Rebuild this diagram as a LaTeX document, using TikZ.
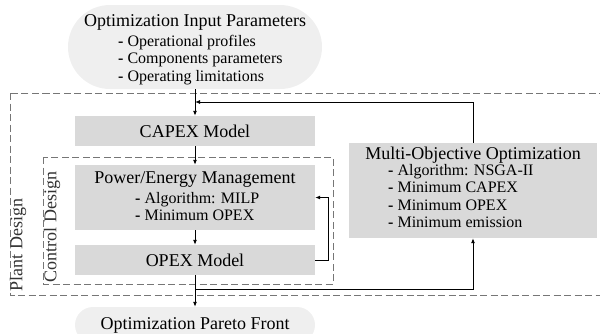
\documentclass[tikz,border=0pt]{standalone}
\usepackage{fontspec}
\setmainfont{Liberation Serif}
\usetikzlibrary{arrows.meta}
\definecolor{boxgray}{HTML}{D9D9D9}
\definecolor{softgray}{HTML}{EFEFEF}
\definecolor{dashgray}{HTML}{767676}
\newcommand{\headfont}{\fontsize{18}{20}\selectfont}
\newcommand{\itemfont}{\fontsize{16}{17.5}\selectfont}
\tikzset{
  modelbox/.style={fill=boxgray,minimum width=240pt,inner sep=0pt,font=\headfont},
  softbox/.style={fill=softgray,inner sep=0pt},
  designframe/.style={draw=dashgray,dash pattern=on 7pt off 3.5pt,line width=.9pt},
  framelabel/.style={rotate=90,font=\headfont,text=black!80,inner sep=0pt},
  flow/.style={-{Latex[length=5pt,width=4pt]},line width=.9pt},
  itemlist/.style={font=\itemfont,align=left,anchor=north west,inner sep=0pt}
}
\begin{document}
\begin{tikzpicture}[x=1pt,y=-1pt]
  \useasboundingbox (0,0) rectangle (600,333);
  \clip (0,0) rectangle (600,333);
  % input parameters
  \node[softbox,minimum width=254pt,minimum height=84pt,rounded corners=42pt](inparam) at (195,47){};
  \node[font=\headfont,inner sep=0pt](inparamtitle) at (195,22){Optimization Input Parameters};
  \node[itemlist](inparamlist) at (118,35){\textbf{-} Operational profiles\\\textbf{-} Components parameters\\\textbf{-} Operating limitations};
  % frames
  \draw[designframe](10,93) rectangle (610,295);
  \draw[designframe](43,157) rectangle (333,284);
  \node[framelabel](plantlbl) at (18,245){Plant Design};
  \node[framelabel](ctrllbl) at (52,227){Control Design};
  % models
  \node[modelbox,minimum height=30pt](capex) at (195,131){CAPEX Model};
  \node[modelbox,minimum height=65pt](pem) at (195,197.5){};
  \node[font=\headfont,inner sep=0pt](pemtitle) at (195,180){Power/Energy Management};
  \node[itemlist](pemlist) at (135,192){\textbf{-} Algorithm: MILP\\\textbf{-} Minimum OPEX};
  \node[modelbox,minimum height=30pt](opex) at (195,260){OPEX Model};
  \node[modelbox,minimum width=248pt,minimum height=95pt](moo) at (473,190.5){};
  \node[font=\headfont,inner sep=0pt](mootitle) at (473,155){Multi-Objective Optimization};
  \node[itemlist](moolist) at (388,164){\textbf{-} Algorithm: NSGA-II\\ \textbf{-} Minimum CAPEX\\ \textbf{-} Minimum OPEX\\ \textbf{-} Minimum emission};
  \node[softbox,minimum width=240pt,minimum height=36pt,rounded corners=18pt,font=\headfont](pareto) at (195,325){Optimization Pareto Front};
  % connectors
  \coordinate(fbin) at (195,102);
  \coordinate(fbout) at (195,289);
  \draw[flow](inparam.south)--(capex.north);
  \draw[flow](moo.north)|-(fbin);
  \draw[flow](capex)--(pem);
  \draw[flow](pem)--(opex);
  \draw[flow](opex.east)--++(13,0)|-(pem.east);
  \draw[flow](opex.south)--(pareto.north);
  \draw[flow](fbout)-|(moo.south);
\end{tikzpicture}
\end{document}
